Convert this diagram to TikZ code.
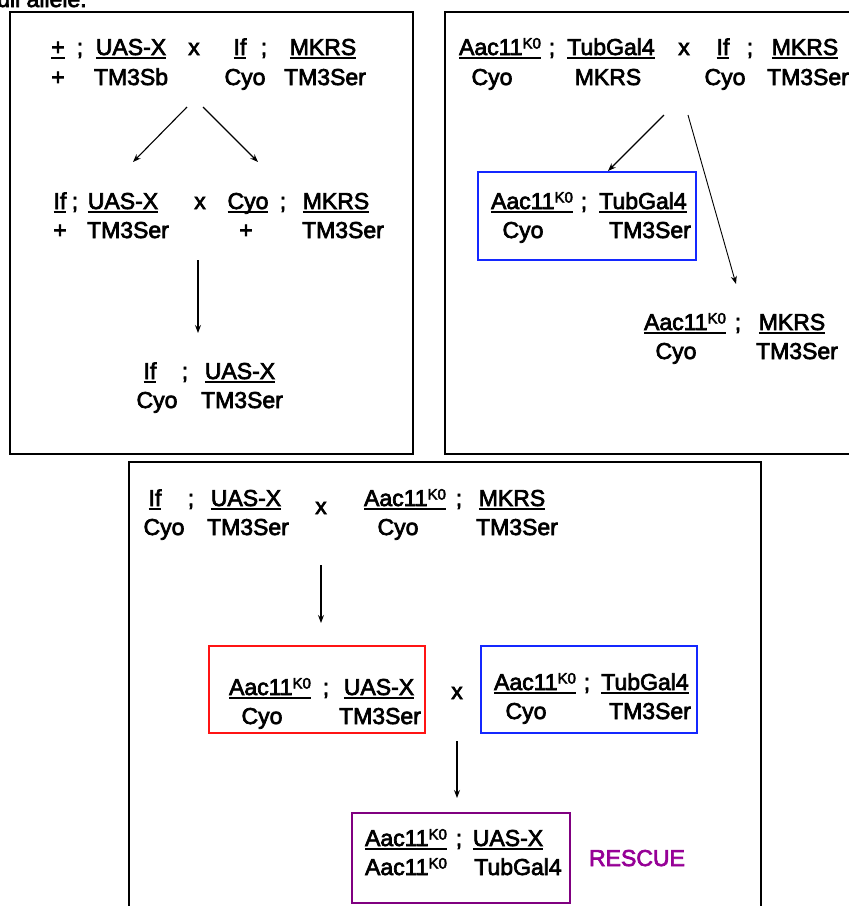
\documentclass[tikz,border=0pt]{standalone}
\usepackage{fontspec}
\setmainfont{Liberation Sans}
\newfontfamily\gfont[FakeBold=3]{Liberation Sans}
\usetikzlibrary{arrows.meta}
\newcommand\uln[1]{\setbox0=\hbox{#1}\leavevmode\rlap{\rule[-4pt]{\wd0}{1.8pt}}\box0}
\newcommand\kosup{\raisebox{6.5pt}{\fontsize{15}{15}\selectfont K0}}
\definecolor{boxblue}{RGB}{20,40,255}
\definecolor{boxred}{RGB}{255,20,20}
\definecolor{boxpurple}{RGB}{128,0,128}
\definecolor{rescue}{RGB}{150,0,150}
\tikzset{
  g/.style={font=\gfont\fontsize{23}{27}\selectfont, inner sep=0pt, anchor=base},
  panel/.style={draw=black, line width=1.5pt},
  cbox/.style={line width=1.8pt},
  arr/.style={draw=black, line width=1.1pt, -{Stealth[length=8pt,width=6pt]}},
}
\begin{document}
\begin{tikzpicture}[x=1pt,y=-1pt]
\useasboundingbox (0,0) rectangle (849,906);
\clip (0,0) rectangle (849,906);
% partial caption at top
\node[g, anchor=base west] (cap) at (-3,7) {ull allele.};
% panels
\draw[panel] (10,12) rectangle (413,454);
\draw[panel] (445,12) rectangle (870,454);
\draw[panel] (129,462) rectangle (761,930);
% ---------------- top-left panel
\node[g] (a1) at (58,55) {\uln{+}};
\node[g] (a2) at (80,55) {;};
\node[g] (a3) at (131,55) {\uln{UAS-X}};
\node[g] (a4) at (194,55) {x};
\node[g] (a5) at (240,55) {\uln{If}};
\node[g] (a6) at (264,55) {;};
\node[g] (a7) at (323,55) {\uln{MKRS}};
\node[g] (b1) at (58,85) {+};
\node[g] (b3) at (131,85) {TM3Sb};
\node[g] (b5) at (245,85) {Cyo};
\node[g] (b7) at (325,85) {TM3Ser};
\coordinate (p1s) at (187,107);
\coordinate (p1e) at (133,162);
\coordinate (p2s) at (203,107);
\coordinate (p2e) at (258,162);
\draw[arr] (p1s) -- (p1e);
\draw[arr] (p2s) -- (p2e);
\node[g] (c1) at (60,209) {\uln{If}};
\node[g] (c2) at (75,209) {;};
\node[g] (c3) at (123,209) {\uln{UAS-X}};
\node[g] (c4) at (200,209) {x};
\node[g] (c5) at (248,209) {\uln{Cyo}};
\node[g] (c6) at (283,209) {;};
\node[g] (c7) at (336,209) {\uln{MKRS}};
\node[g] (d1) at (60,238) {+};
\node[g] (d3) at (128,238) {TM3Ser};
\node[g] (d5) at (246,238) {+};
\node[g] (d7) at (343,238) {TM3Ser};
\coordinate (p3s) at (198,260);
\coordinate (p3e) at (198,333);
\draw[arr] (p3s) -- (p3e);
\node[g] (e1) at (150,379) {\uln{If}};
\node[g] (e2) at (185,379) {;};
\node[g] (e3) at (240,379) {\uln{UAS-X}};
\node[g] (f1) at (157,408) {Cyo};
\node[g] (f3) at (242,408) {TM3Ser};
% ---------------- top-right panel
\node[g] (h1) at (500,55) {\uln{Aac11\kosup}};
\node[g] (h2) at (552,55) {;};
\node[g] (h3) at (611,55) {\uln{TubGal4}};
\node[g] (h4) at (684,55) {x};
\node[g] (h5) at (723,55) {\uln{If}};
\node[g] (h6) at (750,55) {;};
\node[g] (h7) at (805,55) {\uln{MKRS}};
\node[g] (i1) at (492,85) {Cyo};
\node[g] (i3) at (608,85) {MKRS};
\node[g] (i5) at (725,85) {Cyo};
\node[g] (i7) at (808,85) {TM3Ser};
\coordinate (q1s) at (664,115);
\coordinate (q1e) at (608,171);
\coordinate (q2s) at (688,115);
\coordinate (q2e) at (736,284);
\draw[arr] (q1s) -- (q1e);
\draw[arr, line width=0.9pt] (q2s) -- (q2e);
\draw[cbox, draw=boxblue] (478,172) rectangle (696,260);
\node[g] (j1) at (532,209) {\uln{Aac11\kosup}};
\node[g] (j2) at (584,209) {;};
\node[g] (j3) at (643,209) {\uln{TubGal4}};
\node[g] (k1) at (523,238) {Cyo};
\node[g] (k3) at (650,238) {TM3Ser};
\node[g] (l1) at (685,330) {\uln{Aac11\kosup}};
\node[g] (l2) at (738,330) {;};
\node[g] (l3) at (792,330) {\uln{MKRS}};
\node[g] (m1) at (676,359) {Cyo};
\node[g] (m3) at (797,359) {TM3Ser};
% ---------------- bottom panel
\node[g] (n1) at (155,506) {\uln{If}};
\node[g] (n2) at (191,506) {;};
\node[g] (n3) at (246,506) {\uln{UAS-X}};
\node[g] (n4) at (321,514) {x};
\node[g] (n5) at (405,506) {\uln{Aac11\kosup}};
\node[g] (n6) at (459,506) {;};
\node[g] (n7) at (512,506) {\uln{MKRS}};
\node[g] (o1) at (164,535) {Cyo};
\node[g] (o3) at (248,535) {TM3Ser};
\node[g] (o5) at (398,535) {Cyo};
\node[g] (o7) at (517,535) {TM3Ser};
\coordinate (r1s) at (321,565);
\coordinate (r1e) at (321,623);
\draw[arr] (r1s) -- (r1e);
\draw[cbox, draw=boxred] (209,646) rectangle (425,733);
\node[g] (s1) at (270,695) {\uln{Aac11\kosup}};
\node[g] (s2) at (326,695) {;};
\node[g] (s3) at (379,695) {\uln{UAS-X}};
\node[g] (t1) at (262,724) {Cyo};
\node[g] (t3) at (380,724) {TM3Ser};
\node[g] (sx) at (457,699) {x};
\draw[cbox, draw=boxblue] (481,646) rectangle (697,733);
\node[g] (u1) at (535,690) {\uln{Aac11\kosup}};
\node[g] (u2) at (587,690) {;};
\node[g] (u3) at (645,690) {\uln{TubGal4}};
\node[g] (v1) at (526,719) {Cyo};
\node[g] (v3) at (650,719) {TM3Ser};
\coordinate (r2s) at (457,741);
\coordinate (r2e) at (457,798);
\draw[arr] (r2s) -- (r2e);
\draw[cbox, draw=boxpurple] (352,813) rectangle (570,903);
\node[g] (w1) at (406,846) {\uln{Aac11\kosup}};
\node[g] (w2) at (459,846) {;};
\node[g] (w3) at (508,846) {\uln{UAS-X}};
\node[g] (z1) at (406,875) {Aac11\kosup};
\node[g] (z3) at (518,875) {TubGal4};
\node[g, text=rescue] (rescue) at (637,866) {RESCUE};
\end{tikzpicture}
\end{document}
